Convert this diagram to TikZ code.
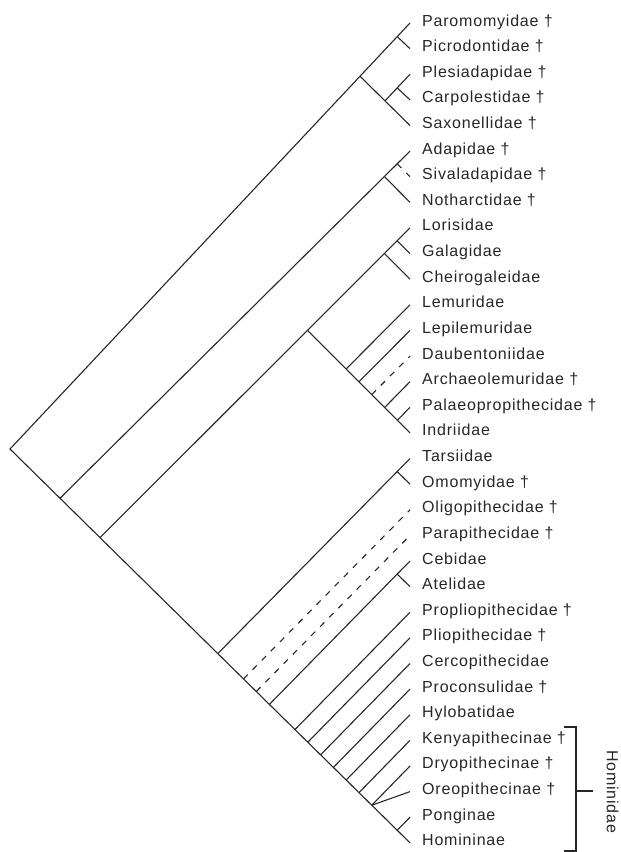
\documentclass[tikz,border=0pt]{standalone}
\usepackage{fontspec}
\setmainfont[LetterSpace=5]{Liberation Sans}
\usetikzlibrary{calc}
\begin{document}
\begin{tikzpicture}[x=1pt,y=-1pt,
  br/.style={line width=1.1pt, draw=black!85},
  dsh/.style={br, dash pattern=on 6pt off 7pt},
  lab/.style={anchor=base west, inner sep=0pt, font=\fontsize{16}{19}\selectfont, text=black!85}]
\useasboundingbox (0,0) rectangle (621,852);
% tips
\foreach \i in {0,...,32} { \coordinate (t\i) at (410,{23+25.62*\i}); }
% labels
\foreach \txt [count=\i from 0] in {Paromomyidae †, Picrodontidae †, Plesiadapidae †, Carpolestidae †, Saxonellidae †, Adapidae †, Sivaladapidae †, Notharctidae †, Lorisidae, Galagidae, Cheirogaleidae, Lemuridae, Lepilemuridae, Daubentoniidae, Archaeolemuridae †, Palaeopropithecidae †, Indriidae, Tarsiidae, Omomyidae †, Oligopithecidae †, Parapithecidae †, Cebidae, Atelidae, Propliopithecidae †, Pliopithecidae †, Cercopithecidae, Proconsulidae †, Hylobatidae, Kenyapithecinae †, Dryopithecinae †, Oreopithecinae †, Ponginae, Homininae}
  { \node[lab] (l\i) at (422,{26+25.62*\i}) {\txt}; }
% root and nodes on root lines
\coordinate (R) at (10,449);
\coordinate (A)  at ($(R)!{(360-10)/400}!(t0)$);
\coordinate (A1) at ($(R)!{(397.2-10)/400}!(t0)$);
\coordinate (A2) at ($(A)!0.5!(t4)$);
\coordinate (A3) at ($(A2)!{(397.2-385)/25}!(t2)$);
\coordinate (N1) at ($(R)!{(60-10)/400}!(t32)$);
\coordinate (N2) at ($(R)!{(100-10)/400}!(t32)$);
\coordinate (H)  at ($(R)!{(217.8-10)/400}!(t32)$);
\coordinate (Ol) at ($(R)!{(243.5-10)/400}!(t32)$);
\coordinate (Pa) at ($(R)!{(256.3-10)/400}!(t32)$);
\coordinate (P)  at ($(R)!{(269.4-10)/400}!(t32)$);
\coordinate (Pr) at ($(R)!{(294.95-10)/400}!(t32)$);
\coordinate (Pl) at ($(R)!{(307.8-10)/400}!(t32)$);
\coordinate (Ce) at ($(R)!{(320.6-10)/400}!(t32)$);
\coordinate (Pc) at ($(R)!{(333.4-10)/400}!(t32)$);
\coordinate (Hy) at ($(R)!{(346.2-10)/400}!(t32)$);
\coordinate (Ke) at ($(R)!{(359-10)/400}!(t32)$);
\coordinate (O)  at ($(R)!{(371.8-10)/400}!(t32)$);
\coordinate (PH) at ($(R)!{(397.2-10)/400}!(t32)$);
% adapiforms
\coordinate (Ad) at ($(N1)!{(384.4-60)/350}!(t5)$);
\coordinate (As) at ($(N1)!{(397.2-60)/350}!(t5)$);
% strepsirrhines
\coordinate (S)  at ($(N2)!{(307.5-100)/310}!(t8)$);
\coordinate (L)  at ($(N2)!{(384.4-100)/310}!(t8)$);
\coordinate (L1) at ($(N2)!{(397.2-100)/310}!(t8)$);
\coordinate (Le) at ($(S)!{(346.1-307.5)/102.5}!(t16)$);
\coordinate (Lp) at ($(S)!{(358.9-307.5)/102.5}!(t16)$);
\coordinate (Db) at ($(S)!{(371.7-307.5)/102.5}!(t16)$);
\coordinate (Ar) at ($(S)!{(384.6-307.5)/102.5}!(t16)$);
\coordinate (Pp) at ($(S)!{(397.4-307.5)/102.5}!(t16)$);
% haplorhines
\coordinate (T)  at ($(H)!{(397.2-217.8)/192.2}!(t17)$);
\coordinate (P1) at ($(P)!{(397.2-269.4)/140.6}!(t21)$);
% branches
\draw[br] (t0) -- (R) -- (t32);
\draw[br] (A) -- (t4);
\draw[br] (A1) -- (t1);
\draw[br] (A2) -- (t2);
\draw[br] (A3) -- (t3);
\draw[br] (N1) -- (t5);
\draw[br] (Ad) -- (t7);
\draw[dsh] (As) -- (t6);
\draw[br] (N2) -- (t8);
\draw[br] (L) -- (t10);
\draw[br] (L1) -- (t9);
\draw[br] (S) -- (t16);
\draw[br] (Le) -- (t11);
\draw[br] (Lp) -- (t12);
\draw[dsh] (Db) -- (t13);
\draw[br] (Ar) -- (t14);
\draw[br] (Pp) -- (t15);
\draw[br] (H) -- (t17);
\draw[br] (T) -- (t18);
\draw[dsh] (Ol) -- (t19);
\draw[dsh] (Pa) -- (t20);
\draw[br] (P) -- (t21);
\draw[br] (P1) -- (t22);
\draw[br] (Pr) -- (t23);
\draw[br] (Pl) -- (t24);
\draw[br] (Ce) -- (t25);
\draw[br] (Pc) -- (t26);
\draw[br] (Hy) -- (t27);
\draw[br] (Ke) -- (t28);
\draw[br] (O) -- (t29);
\draw[br] (O) -- (t30);
\draw[br] (PH) -- (t31);
% Hominidae bracket
\coordinate (b1) at (564,727);
\coordinate (b2) at (576,727);
\coordinate (b3) at (576,851);
\coordinate (b4) at (564,851);
\coordinate (bm) at (576,791);
\coordinate (bn) at (593,791);
\draw[br] (b1) -- (b2) -- (b3) -- (b4);
\draw[br] (bm) -- (bn);
\node[rotate=-90, inner sep=0pt, font=\fontsize{16}{19}\selectfont, text=black!85] (hom) at (612.5,791.5) {Hominidae};
\end{tikzpicture}
\end{document}
